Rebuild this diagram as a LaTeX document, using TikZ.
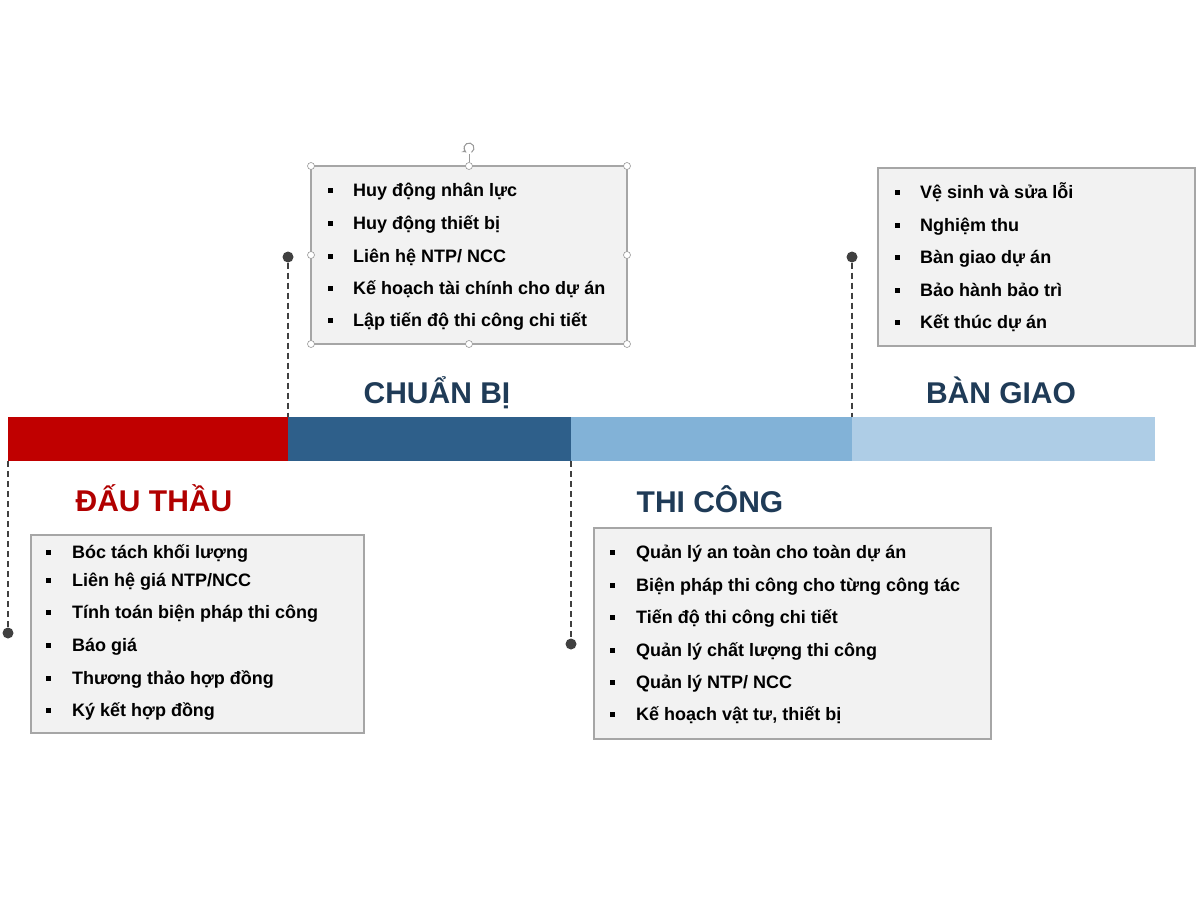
\documentclass[tikz,border=0pt]{standalone}
\usepackage{fontspec}
\setmainfont{Liberation Sans}
\usetikzlibrary{positioning}
\definecolor{bidred}{HTML}{C00000}
\definecolor{prepblue}{HTML}{2E5F8A}
\definecolor{buildblue}{HTML}{82B2D7}
\definecolor{handblue}{HTML}{AECDE6}
\definecolor{titlenavy}{HTML}{1F3B57}
\definecolor{boxgray}{HTML}{F2F2F2}
\definecolor{edgegray}{HTML}{A6A6A6}
\definecolor{dotgray}{HTML}{404040}
\tikzset{
  segment/.style={inner sep=0, outer sep=0, minimum height=44},
  phase/.style={font=\bfseries\fontsize{30}{34}\selectfont, color=titlenavy, inner sep=0, anchor=base},
  listbox/.style={draw=edgegray, line width=1.6, fill=boxgray, inner sep=0},
  item/.style={font=\bfseries\fontsize{18}{21}\selectfont, anchor=base west, inner sep=0},
  bulletsq/.style={fill=black, minimum size=5, inner sep=0},
  marker/.style={circle, fill=dotgray, minimum size=11, inner sep=0},
  leader/.style={dotgray, line width=1.4, dash pattern=on 6 off 4},
  handle/.style={circle, draw=gray!80, fill=white, line width=0.6, minimum size=7, inner sep=0}
}
\begin{document}
\begin{tikzpicture}[x=1pt, y=-1pt]
			%%%%% START %%%%%
			\useasboundingbox[fill=white] (0,0) rectangle (1201,900);
			
			% timeline bar
			\node[segment, fill=bidred, minimum width=280] (bidbar) at (148,439) {};
			\node[segment, fill=prepblue, minimum width=283] (prepbar) at (429.5,439) {};
			\node[segment, fill=buildblue, minimum width=281] (buildbar) at (711.5,439) {};
			\node[segment, fill=handblue, minimum width=303] (handbar) at (1003.5,439) {};
			
			% markers and dashed leaders
			\node[marker] (prepdot) at (288,257) {};
			\node[marker] (handdot) at (852,257) {};
			\node[marker] (biddot) at (8,633) {};
			\node[marker] (builddot) at (571,644) {};
			\draw[leader] (prepdot) -- (prepbar.north west);
			\draw[leader] (handdot) -- (handbar.north west);
			\draw[leader] (bidbar.south west) -- (biddot);
			\draw[leader] (buildbar.south west) -- (builddot);
			
			% phase titles
			\node[phase] (preptitle) at (437,403) {CHUẨN BỊ};
			\node[phase] (handtitle) at (1001,403) {BÀN GIAO};
			\node[phase, color=bidred!92!black] (bidtitle) at (154,511) {ĐẤU THẦU};
			\node[phase] (buildtitle) at (710,512) {THI CÔNG};
			
			% CHUAN BI list
			\node[listbox, minimum width=316, minimum height=178] (prepbox) at (469,255) {};
			\foreach \y/\txt [count=\i] in {190/{Huy động nhân lực}, 223/{Huy động thiết bị}, 256/{Liên hệ NTP/ NCC}, 288/{Kế hoạch tài chính cho dự án}, 320/{Lập tiến độ thi công chi tiết}} {
				\node[bulletsq] (prep-b\i) at (330,\y) {};
				\node[item] (prep-\i) at (353,\y+6) {\txt};
			}
			% selection handles
			\foreach \hx/\hy [count=\i] in {311/166, 469/166, 627/166, 627/255, 627/344, 469/344, 311/344, 311/255}
				\node[handle] (sel-\i) at (\hx,\hy) {};
			\coordinate (rot) at (469,148);
			\draw[gray!80, line width=0.6] (sel-2) -- ++(0,-12);
			\draw[gray!80, line width=1, ->, >=stealth] ([shift={(60:5)}]rot) arc (60:-240:5);
			
			% BAN GIAO list
			\node[listbox, minimum width=317, minimum height=178] (handbox) at (1036.5,257) {};
			\foreach \y/\txt [count=\i] in {192/{Vệ sinh và sửa lỗi}, 225/{Nghiệm thu}, 257/{Bàn giao dự án}, 290/{Bảo hành bảo trì}, 322/{Kết thúc dự án}} {
				\node[bulletsq] (hand-b\i) at (897,\y) {};
				\node[item] (hand-\i) at (920,\y+6) {\txt};
			}
			
			% DAU THAU list
			\node[listbox, minimum width=333, minimum height=198] (bidbox) at (197.5,634) {};
			\foreach \y/\txt [count=\i] in {552/{Bóc tách khối lượng}, 580/{Liên hệ giá NTP/NCC}, 612/{Tính toán biện pháp thi công}, 645/{Báo giá}, 678/{Thương thảo hợp đồng}, 710/{Ký kết hợp đồng}} {
				\node[bulletsq] (bid-b\i) at (48,\y) {};
				\node[item] (bid-\i) at (72,\y+6) {\txt};
			}
			
			% THI CONG list
			\node[listbox, minimum width=397, minimum height=211] (buildbox) at (792.5,633.5) {};
			\foreach \y/\txt [count=\i] in {552/{Quản lý an toàn cho toàn dự án}, 585/{Biện pháp thi công cho từng công tác}, 617/{Tiến độ thi công chi tiết}, 650/{Quản lý chất lượng thi công}, 682/{Quản lý NTP/ NCC}, 714/{Kế hoạch vật tư, thiết bị}} {
				\node[bulletsq] (build-b\i) at (612,\y) {};
				\node[item] (build-\i) at (636,\y+6) {\txt};
			}
			
			%%%%% END %%%%%
\end{tikzpicture}
\end{document}
